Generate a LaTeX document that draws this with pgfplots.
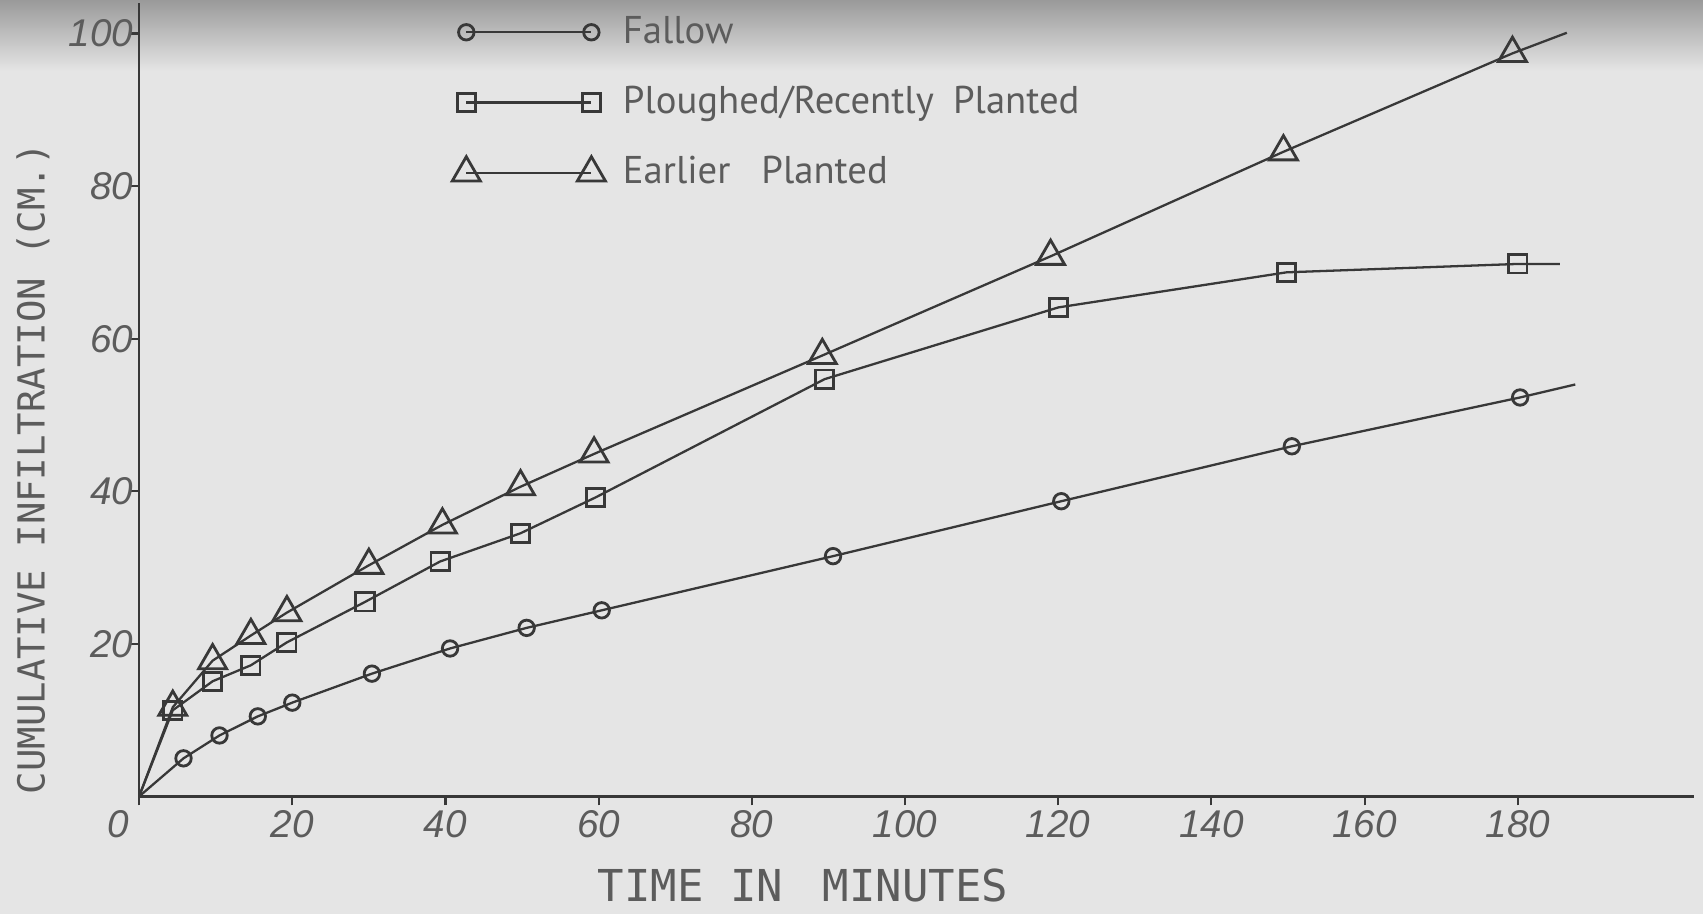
\documentclass[border=0pt]{standalone}
\usepackage{pgfplots}
\pgfplotsset{compat=1.18}
\usepackage{pgfplotstable}
\usepackage{fontspec}
\setmainfont{PT Sans}
\newfontfamily\monof{DejaVu Sans Mono}
\newfontfamily\tickf{Liberation Sans}
\definecolor{bg}{HTML}{E5E5E5}
\definecolor{ink}{HTML}{383838}
\definecolor{txt}{HTML}{5C5C5C}
\definecolor{topshade}{HTML}{9A9A9A}

\pgfplotstableread{
t y
0 0
5.8 5.0
10.5 8.0
15.5 10.5
20.0 12.3
30.4 16.1
40.6 19.4
50.6 22.1
60.4 24.4
90.6 31.5
120.4 38.7
150.5 45.9
180.3 52.3
187.5 54.0
}\fallow

\pgfplotstableread{
t y
0 0
4.4 11.3
9.6 15.1
14.6 17.2
19.3 20.2
29.5 25.5
39.3 30.8
49.8 34.5
59.6 39.2
89.5 54.7
120.0 64.1
149.8 68.7
180.0 69.8
185.5 69.8
}\plough

\pgfplotstableread{
t y
0 0
4.4 11.7
9.6 17.8
14.6 21.1
19.3 24.1
30.0 30.3
39.6 35.6
49.8 40.6
59.4 44.9
89.2 57.8
119.0 70.8
149.4 84.5
179.3 97.4
186.4 100.1
}\earlier

\begin{document}
\begin{tikzpicture}
\fill[bg] (-1.39,-1.17) rectangle (15.63,7.96);
\shade[top color=topshade, bottom color=bg] (-1.39,7.25) rectangle (15.63,7.96);
\begin{axis}[
  at={(0,0)}, anchor=south west,
  scale only axis, width=15.54cm, height=7.93cm,
  xmin=0, xmax=203, ymin=0, ymax=104,
  axis x line*=bottom, axis y line*=left,
  axis line style={ink, line width=0.7pt},
  xtick={0,20,40,60,80,100,120,140,160,180},
  xticklabels={\llap{0\hspace{3pt}},20,40,60,80,100,120,140,160,180},
  ytick={20,40,60,80,100},
  tick align=outside, major tick length=2.5pt,
  tick style={ink, line width=0.6pt},
  /pgf/number format/assume math mode=true,
  tick label style={font=\tickf\itshape\fontsize{11}{13}\selectfont, text=txt},
  xticklabel style={yshift=2pt},
  yticklabel style={xshift=4.4pt},
  xlabel={TIME IN\hspace{0.9em}MINUTES},
  xlabel style={font=\monof\fontsize{12.5}{14}\selectfont, text=txt, at={(rel axis cs:0.427,0)}, anchor=center, yshift=-0.89cm},
  ylabel={CUMULATIVE INFILTRATION (CM.)},
  ylabel style={font=\monof\fontsize{10.6}{12}\selectfont, text=txt, at={(rel axis cs:0,0.413)}, anchor=center, yshift=1.06cm},
  legend cell align=left,
  legend style={at={(axis cs:40.8,103.3)}, anchor=north west, draw=none, fill=none,
    font=\fontsize{11}{13}\selectfont, text=txt, row sep=6.7pt, inner sep=0pt},
  legend image code/.code={\draw[#1, mark indices={1,2}] plot coordinates {(0cm,0cm) (1.25cm,0cm)};},
  every axis plot/.append style={ink, line width=0.65pt, mark options={solid, fill=bg, line width=0.8pt}},
]
\addplot[mark=o, mark size=2.2pt, mark indices={2,3,4,5,6,7,8,9,10,11,12,13}] table[x=t,y=y] {\fallow};
\addlegendentry{\hspace{3pt}Fallow}
\addplot[mark=square, mark size=2.6pt, mark indices={2,3,4,5,6,7,8,9,10,11,12,13}] table[x=t,y=y] {\plough};
\addlegendentry{\hspace{3pt}Ploughed/Recently\hspace{0.5em}Planted}
\addplot[mark=triangle, mark size=4.6pt, mark indices={2,3,4,5,6,7,8,9,10,11,12,13}] table[x=t,y=y] {\earlier};
\addlegendentry{\hspace{3pt}Earlier\hspace{0.8em}Planted}
\end{axis}
\end{tikzpicture}
\end{document}
